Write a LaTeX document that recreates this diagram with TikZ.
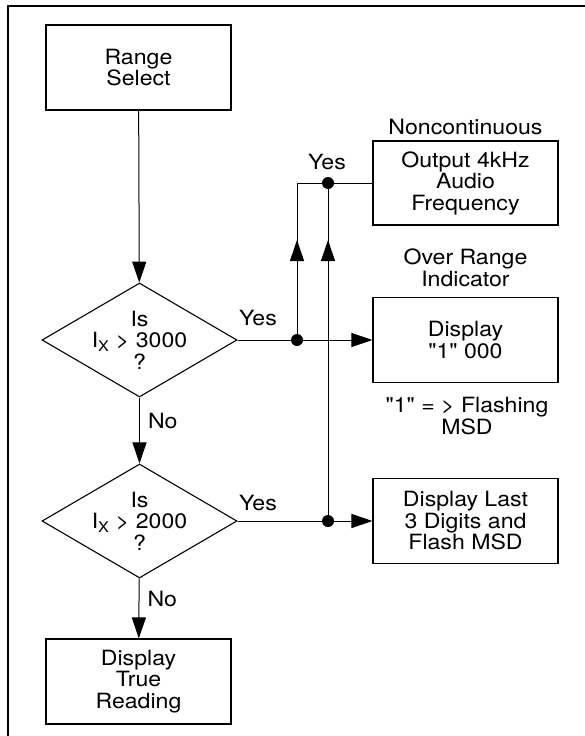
\documentclass[tikz,border=0pt]{standalone}
\usepackage{fontspec}
\setmainfont{TeX Gyre Heros}[FakeStretch=1.1,Ligatures=TeXOff]
\usetikzlibrary{arrows.meta}
\usetikzlibrary{shapes.geometric}
\usetikzlibrary{calc}

\begin{document}
\begin{tikzpicture}[x=1pt,y=-1pt,
        font=\fontsize{21}{21.5}\selectfont,
        box/.style={draw,line width=1.1pt,minimum width=185pt,minimum height=85pt,align=center,inner sep=0pt},
        decision/.style={draw,diamond,line width=1.1pt,minimum width=195pt,minimum height=114pt,inner sep=0pt},
        flow/.style={line width=1pt},
        tip/.style={-{Triangle[length=21pt,width=14pt]}},
        dot/.style={circle,fill,inner sep=0pt,minimum size=12pt},
        lbl/.style={align=center,inner sep=0pt}]

        \useasboundingbox (0,0) rectangle (585,736);

        % Frame
        \draw[line width=2.5pt] (8,736) -- (8,6) -- (585,6);

        % Main column
        \node[box] (range) at (138.5,67.5) {Range\\Select};
        \node[decision,label={[lbl]center:Is\\I\textsubscript{X} > 3000\\?}] (dec1) at (139.5,340) {};
        \node[decision,label={[lbl]center:Is\\I\textsubscript{X} > 2000\\?}] (dec2) at (139.5,521) {};
        \node[box] (true) at (138.5,681.5) {Display\\True\\Reading};

        % Right column
        \node[box,minimum height=84pt] (audio) at (465.5,183) {Output 4kHz\\Audio\\Frequency};
        \node[box] (over) at (465.5,340) {Display\\"1" 000};
        \node[box] (last) at (465.5,521) {Display Last\\3 Digits and\\Flash MSD};

        \node[lbl] at (465.5,127) {Noncontinuous};
        \node[lbl] at (465.5,268) {Over Range\\Indicator};
        \node[lbl] at (467,416) {"1" = > Flashing\\MSD};

        % Junctions
        \node[dot] (j1) at (297,340) {};
        \node[dot] (j2) at (328,183) {};
        \node[dot] (j3) at (328,521) {};
        \coordinate (c1) at (297,183);
        \coordinate (up) at (0,240);

        % Connectors
        \draw[flow,tip] (range) -- (dec1);
        \draw[flow,tip] (dec1) -- node[lbl,right=8pt,pos=0.35] {No} (dec2);
        \draw[flow,tip] (dec2) -- node[lbl,right=8pt,pos=0.35] {No} (true);

        \draw[flow] (dec1.east) -- (j1);
        \draw[flow,tip] (j1) -- (over.west);
        \draw[flow] (dec2.east) -- (j3);
        \draw[flow,tip] (j3) -- (last.west);

        \draw[flow] (j1) -- (c1) -- (j2) -- (audio.west);
        \draw[flow] (j3) -- (j2);
        \draw[flow,tip] (j1) -- (j1 |- up);
        \draw[flow,tip] (j3) -- (j3 |- up);

        % Yes labels
        \node[lbl] at (258,318) {Yes};
        \node[lbl] at (258,503) {Yes};
        \node[lbl] at (327,162) {Yes};
\end{tikzpicture}
\end{document}
